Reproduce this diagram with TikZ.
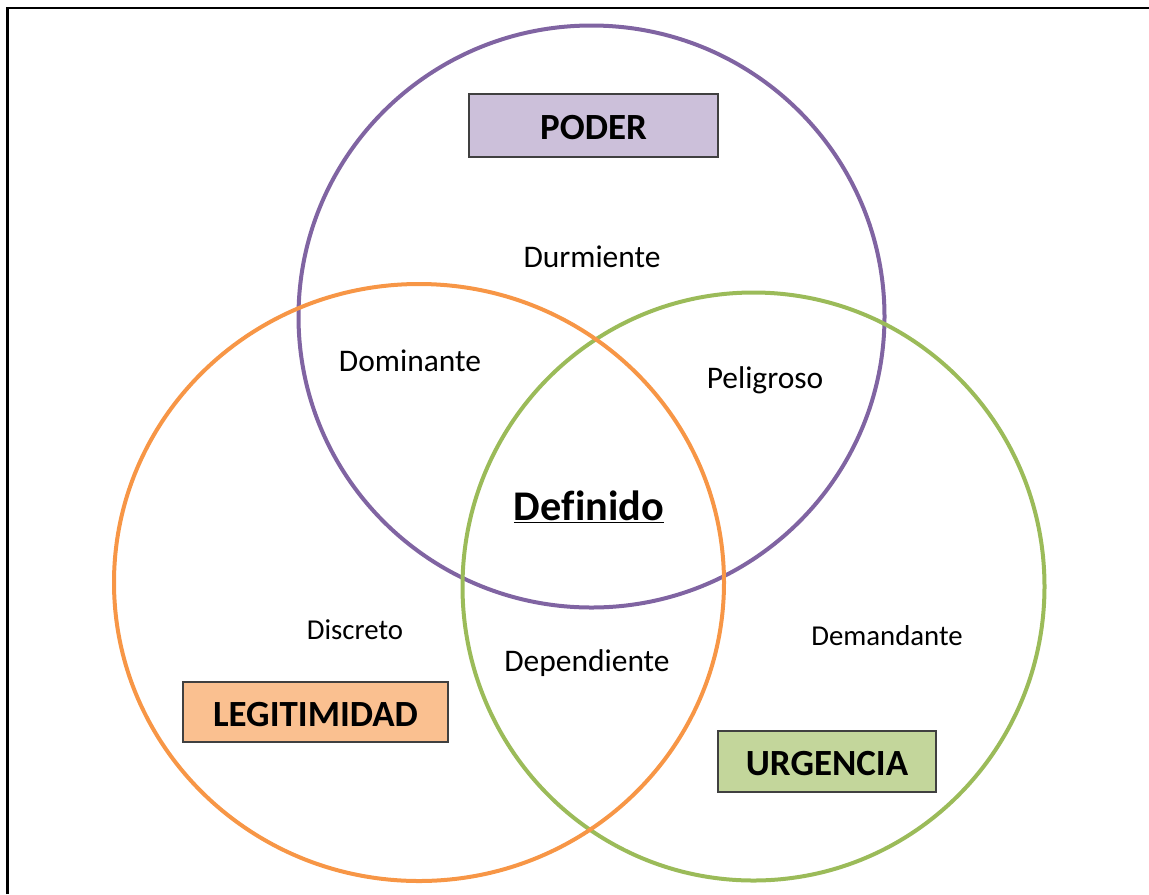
\documentclass[tikz,border=0pt]{standalone}
\usepackage{fontspec}
\setmainfont{Carlito}
\definecolor{poderline}{HTML}{8064A2}
\definecolor{legline}{HTML}{F79646}
\definecolor{urgline}{HTML}{9BBB59}
\definecolor{poderfill}{HTML}{CCC0DA}
\definecolor{legfill}{HTML}{FAC090}
\definecolor{urgfill}{HTML}{C3D69B}
\definecolor{boxedge}{HTML}{404040}
\tikzset{
  ring/.style={line width=3pt},
  setbox/.style={draw=boxedge, line width=1.1pt, inner sep=0pt,
    font=\fontsize{27.7}{33}\selectfont\bfseries, text height=21.6pt, text depth=0pt},
  zone/.style={anchor=base, inner sep=0pt, font=\fontsize{23.6}{28}\selectfont},
  smallzone/.style={anchor=base, inner sep=0pt, font=\fontsize{21.6}{26}\selectfont},
}
\begin{document}
\begin{tikzpicture}[x=0.75pt, y=-0.75pt]
\useasboundingbox (0,0) rectangle (1149,894);
% frame
\draw[line width=1.6pt] (7.5,894) -- (7.5,8) -- (1149,8);
% the three sets
\draw[ring, poderline] (591.5,316.5) ellipse[x radius=293, y radius=291];
\draw[ring, urgline] (753.5,586.5) ellipse[x radius=291, y radius=294];
\draw[ring, legline] (419,582.5) ellipse[x radius=305, y radius=298.5];
% set labels
\node[setbox, fill=poderfill, minimum width=186.75pt, minimum height=47.25pt] (poder) at (593.5,125.5) {PODER};
\node[setbox, fill=legfill, minimum width=198.75pt, minimum height=45pt] (leg) at (315.5,712) {LEGITIMIDAD};
\node[setbox, fill=urgfill, minimum width=163.5pt, minimum height=45.75pt] (urg) at (827,761.5) {URGENCIA};
% region labels
\node[zone] (durm) at (592,267) {Durmiente};
\node[zone] (domi) at (410,371) {Dominante};
\node[zone] (peli) at (765,388) {Peligroso};
\node[zone] (depe) at (587,671) {Dependiente};
\node[smallzone] (disc) at (355,639) {Discreto};
\node[smallzone] (dema) at (887,645) {Demandante};
\node[anchor=base, inner sep=0pt, font=\fontsize{31.7}{38}\selectfont\bfseries] (defi) at (589,520) {\underline{De\mbox{f}inido}};
\end{tikzpicture}
\end{document}
